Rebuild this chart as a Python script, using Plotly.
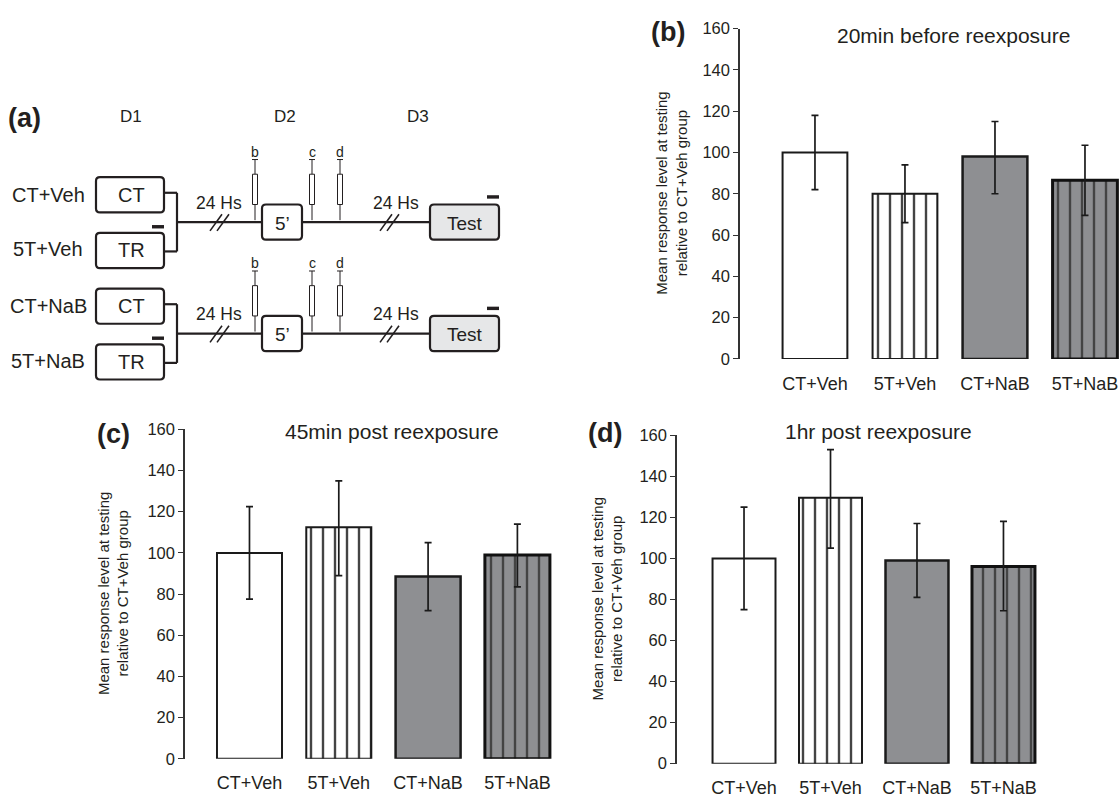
import plotly.graph_objects as go

W, H = 1119, 802

groups = ["CT+Veh", "5T+Veh", "CT+NaB", "5T+NaB"]

# panel (b) 20min before reexposure
b_mean = [100, 80, 98, 86.5]
b_hi = [118, 94, 115, 103.5]
b_lo = [82, 66, 80, 69.5]
# panel (c) 45min post reexposure
c_mean = [100, 112.5, 88.5, 99]
c_hi = [122.5, 135, 105, 114]
c_lo = [77.5, 89, 72, 83.5]
# panel (d) 1hr post reexposure
d_mean = [100, 129.5, 99, 96]
d_hi = [125, 153, 117, 118]
d_lo = [75, 105, 81, 74.5]

y_ticks = [0, 20, 40, 60, 80, 100, 120, 140, 160]

FONT = "Liberation Sans, Arial, sans-serif"
TXT = "#231f20"
GRAY = "#8e8f92"

def px(x):
    return x / W

def py(y):
    return 1 - y / H

fig = go.Figure()

panels = [
    dict(m=b_mean, hi=b_hi, lo=b_lo, ax="", xd=(740, 1119), yd=(20, 358), xr=(-0.833, 3.378), w=0.72,
         title="20min before reexposure", tp=(953, 27), lab="(b)", lp=(668, 24), ytx=672),
    dict(m=c_mean, hi=c_hi, lo=c_lo, ax="2", xd=(185, 560), yd=(430, 767), xr=(-0.722, 3.477), w=0.728,
         title="45min post reexposure", tp=(392, 432), lab="(c)", lp=(113, 435), ytx=113),
    dict(m=d_mean, hi=d_hi, lo=d_lo, ax="3", xd=(677, 1050), yd=(436, 772), xr=(-0.775, 3.538), w=0.728,
         title="1hr post reexposure", tp=(878, 432), lab="(d)", lp=(605, 434), ytx=607),
]

annotations = []
layout_axes = {}
for p in panels:
    ups = [h - m for h, m in zip(p["hi"], p["m"])]
    downs = [m - l for m, l in zip(p["m"], p["lo"])]
    fig.add_trace(go.Bar(
        x=groups, y=p["m"], width=p["w"],
        xaxis="x" + p["ax"], yaxis="y" + p["ax"],
        marker=dict(
            color=["white", "white", GRAY, GRAY],
            line=dict(color=["#1a1a1a", "#1a1a1a", "#1a1a1a", "#111111"], width=[2, 2, 2.5, 3]),
            pattern=dict(shape=["", "|", "", "|"], fgcolor=["black", "#111111", "black", "#2a2a2a"],
                         fgopacity=1, size=12, solidity=0.2, fillmode="overlay"),
        ),
        error_y=dict(type="data", symmetric=False, array=ups, arrayminus=downs,
                     color="#1a1a1a", thickness=1.7, width=3.5),
        showlegend=False,
    ))
    xa = dict(domain=[px(p["xd"][0]), px(p["xd"][1])], range=list(p["xr"]), showline=False,
              showgrid=False, zeroline=False, ticks="outside", ticklen=8, tickcolor="rgba(0,0,0,0)",
              tickfont=dict(family=FONT, size=18, color=TXT), anchor="y" + p["ax"], fixedrange=True)
    ya = dict(domain=[py(p["yd"][1]), py(p["yd"][0])], range=[0, 160], showline=True, linecolor="#333333",
              linewidth=1.5, ticks="outside", ticklen=5, tickwidth=1.2, tickcolor="#333333",
              tickvals=y_ticks, showgrid=False, zeroline=False,
              tickfont=dict(family=FONT, size=16.5, color=TXT), anchor="x" + p["ax"], fixedrange=True)
    layout_axes["xaxis" + p["ax"]] = xa
    layout_axes["yaxis" + p["ax"]] = ya
    annotations.append(dict(x=px(p["tp"][0]), y=py(p["tp"][1]), xref="paper", yref="paper", text=p["title"],
                            showarrow=False, xanchor="center", yanchor="middle",
                            font=dict(family=FONT, size=21, color=TXT)))
    annotations.append(dict(x=px(p["lp"][0]), y=py(p["lp"][1]), xref="paper", yref="paper", text="<b>" + p["lab"] + "</b>",
                            showarrow=False, xanchor="center", yanchor="middle",
                            font=dict(family=FONT, size=27, color=TXT)))
    yc = (p["yd"][0] + p["yd"][1]) / 2
    annotations.append(dict(x=px(p["ytx"]), y=py(yc), xref="paper", yref="paper",
                            text="Mean response level at testing<br>relative to CT+Veh group",
                            textangle=-90, showarrow=False, xanchor="center", yanchor="middle",
                            font=dict(family=FONT, size=15, color=TXT)))

# ---------------- panel (a) schematic ----------------
shapes = []
LC = "#231f20"

def line(x0, y0, x1, y1, w=2.2):
    shapes.append(dict(type="line", xref="paper", yref="paper", x0=px(x0), y0=py(y0), x1=px(x1), y1=py(y1),
                       line=dict(color=LC, width=w)))

def rect(x0, y0, x1, y1, fill="white", w=2, lw=True):
    shapes.append(dict(type="rect", xref="paper", yref="paper", x0=px(x0), y0=py(y0), x1=px(x1), y1=py(y1),
                       fillcolor=fill, line=dict(color=LC, width=w if lw else 0)))

def rrect(x0, y0, x1, y1, fill="white", w=2.2, r=4):
    X = lambda v: px(v)
    Y = lambda v: py(v)
    path = (f"M {X(x0 + r)},{Y(y0)} L {X(x1 - r)},{Y(y0)} Q {X(x1)},{Y(y0)} {X(x1)},{Y(y0 + r)} "
            f"L {X(x1)},{Y(y1 - r)} Q {X(x1)},{Y(y1)} {X(x1 - r)},{Y(y1)} "
            f"L {X(x0 + r)},{Y(y1)} Q {X(x0)},{Y(y1)} {X(x0)},{Y(y1 - r)} "
            f"L {X(x0)},{Y(y0 + r)} Q {X(x0)},{Y(y0)} {X(x0 + r)},{Y(y0)} Z")
    shapes.append(dict(type="path", xref="paper", yref="paper", path=path, fillcolor=fill,
                       line=dict(color=LC, width=w)))

def text(x, y, s, size, bold=False):
    annotations.append(dict(x=px(x), y=py(y), xref="paper", yref="paper", text=("<b>%s</b>" % s) if bold else s,
                            showarrow=False, xanchor="center", yanchor="middle",
                            font=dict(family=FONT, size=size, color=TXT)))

text(24, 112, "(a)", 27, bold=True)
text(131, 110, "D1", 17)
text(285, 110, "D2", 17)
text(418, 110, "D3", 17)

row_labels = [("CT+Veh", "5T+Veh"), ("CT+NaB", "5T+NaB")]
for r, (l1, l2) in enumerate(row_labels):
    dy = 114 * r
    text(49, 190 + dy, l1, 20)
    text(48, 246 + dy, l2, 20)
    rrect(96, 172 + dy, 164, 208 + dy)
    rrect(96, 229 + dy, 164, 265 + dy)
    text(131, 190 + dy, "CT", 20)
    text(131, 247 + dy, "TR", 20)
    rect(152, 221 + dy, 164, 224.5 + dy, fill=LC, lw=False)
    line(164, 188 + dy, 177, 188 + dy)
    line(177, 188 + dy, 177, 248 + dy)
    line(164, 248 + dy, 177, 248 + dy)
    line(177, 218 + dy, 262, 218 + dy)
    line(302, 218 + dy, 430, 218 + dy)
    line(210, 227 + dy, 222, 210 + dy, 1.6)
    line(217, 227 + dy, 229, 210 + dy, 1.6)
    line(380, 227 + dy, 392, 210 + dy, 1.6)
    line(387, 227 + dy, 399, 210 + dy, 1.6)
    text(219, 198 + dy, "24 Hs", 17.5)
    text(396, 198 + dy, "24 Hs", 17.5)
    rrect(262, 200 + dy, 302, 236 + dy)
    text(282, 219 + dy, "5’", 19)
    rrect(430, 200 + dy, 499, 236 + dy, fill="#e6e7e8")
    text(465, 219 + dy, "Test", 19)
    rect(487, 190.5 + dy, 499, 194 + dy, fill=LC, lw=False)
    for sx, lab in [(255, "b"), (312, "c"), (340, "d")]:
        text(sx, 146 + dy, lab, 14)
        line(sx - 3, 154 + dy, sx + 3, 154 + dy, 1)
        line(sx, 154 + dy, sx, 169 + dy, 1)
        rect(sx - 2.5, 169 + dy, sx + 2.5, 200 + dy, w=1)
        line(sx, 200 + dy, sx, 216 + dy, 1)

fig.update_layout(
    width=W, height=H, autosize=False,
    margin=dict(l=0, r=0, t=0, b=0, pad=0),
    paper_bgcolor="white", plot_bgcolor="rgba(0,0,0,0)",
    annotations=annotations, shapes=shapes,
    font=dict(family=FONT, color=TXT),
    **layout_axes,
)

fig.write_html("out.html", config={"displayModeBar": False},
               post_script="document.body.style.margin='0';document.body.style.overflow='hidden';")
